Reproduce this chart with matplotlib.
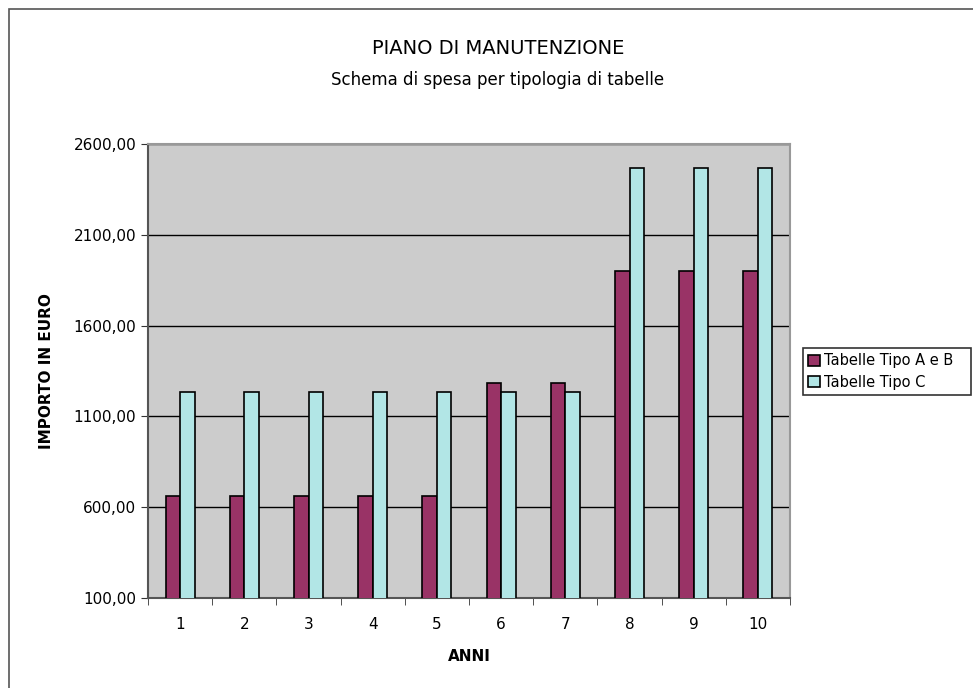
import numpy as np
import matplotlib.pyplot as plt
from matplotlib.patches import Rectangle
from matplotlib.ticker import FuncFormatter

# dati
anni = [1, 2, 3, 4, 5, 6, 7, 8, 9, 10]
tipo_ab = [660, 660, 660, 660, 660, 1283, 1283, 1903, 1903, 1903]
tipo_c = [1237, 1237, 1237, 1237, 1237, 1237, 1237, 2468, 2468, 2468]
y_ticks = [100, 600, 1100, 1600, 2100, 2600]

plt.rcParams['font.family'] = ['DejaVu Sans']

fig = plt.figure(figsize=(9.73, 6.88), dpi=100)
ax = fig.add_axes([148 / 973, 90 / 688, 642 / 973, 454 / 688])

# cornice esterna
fig.patches.append(Rectangle((8.5 / 973, -0.1), 2, 1.1 - 8.5 / 688,
                             transform=fig.transFigure, fill=False,
                             edgecolor='#555555', linewidth=1.2))

x = np.arange(len(anni))
w = 0.225
ax.set_facecolor('#cccccc')
ax.bar(x - w / 2, tipo_ab, w, color='#993366', edgecolor='black',
       linewidth=1.2, label='Tabelle Tipo A e B', zorder=3)
ax.bar(x + w / 2, tipo_c, w, color='#b2e6e6', edgecolor='black',
       linewidth=1.2, label='Tabelle Tipo C', zorder=3)

ax.set_ylim(100, 2600)
ax.set_xlim(-0.5, len(anni) - 0.5)
ax.set_yticks(y_ticks)
ax.yaxis.set_major_formatter(FuncFormatter(lambda v, p: f'{v:.2f}'.replace('.', ',')))
ax.yaxis.grid(True, color='black', linewidth=1)
ax.set_axisbelow(True)

ax.set_xticks(x)
ax.set_xticklabels([str(a) for a in anni])
ax.set_xticks(np.arange(-0.5, len(anni), 1), minor=True)
ax.tick_params(axis='x', which='major', length=0, pad=14, labelsize=11)
ax.tick_params(axis='x', which='minor', length=5, color='#333333')
ax.tick_params(axis='y', length=5, labelsize=11, color='#333333')

ax.spines['top'].set_color('#999999')
ax.spines['right'].set_color('#999999')
ax.spines['left'].set_color('#555555')
ax.spines['bottom'].set_color('#555555')
for s in ax.spines.values():
    s.set_linewidth(1.5)

ax.set_xlabel('ANNI', fontsize=11, fontweight='bold', labelpad=12)
ax.set_ylabel('IMPORTO IN EURO', fontsize=11, fontweight='bold', labelpad=14)

fig.text(498 / 973, 1 - 48 / 688, 'PIANO DI MANUTENZIONE', ha='center', va='center', fontsize=14)
fig.text(498 / 973, 1 - 80 / 688, 'Schema di spesa per tipologia di tabelle', ha='center',
         va='center', fontsize=12)

leg = ax.legend(loc='center left', bbox_to_anchor=(803 / 973, 1 - 399 / 688, 168 / 973, 55 / 688),
                bbox_transform=fig.transFigure, mode='expand', fancybox=False,
                edgecolor='black', fontsize=10.5, handlelength=0.8, handleheight=0.8,
                handletextpad=0.3, borderpad=0.35, labelspacing=0.45, borderaxespad=0)
leg.get_frame().set_linewidth(1.2)

fig.savefig('out.png', dpi=100)
